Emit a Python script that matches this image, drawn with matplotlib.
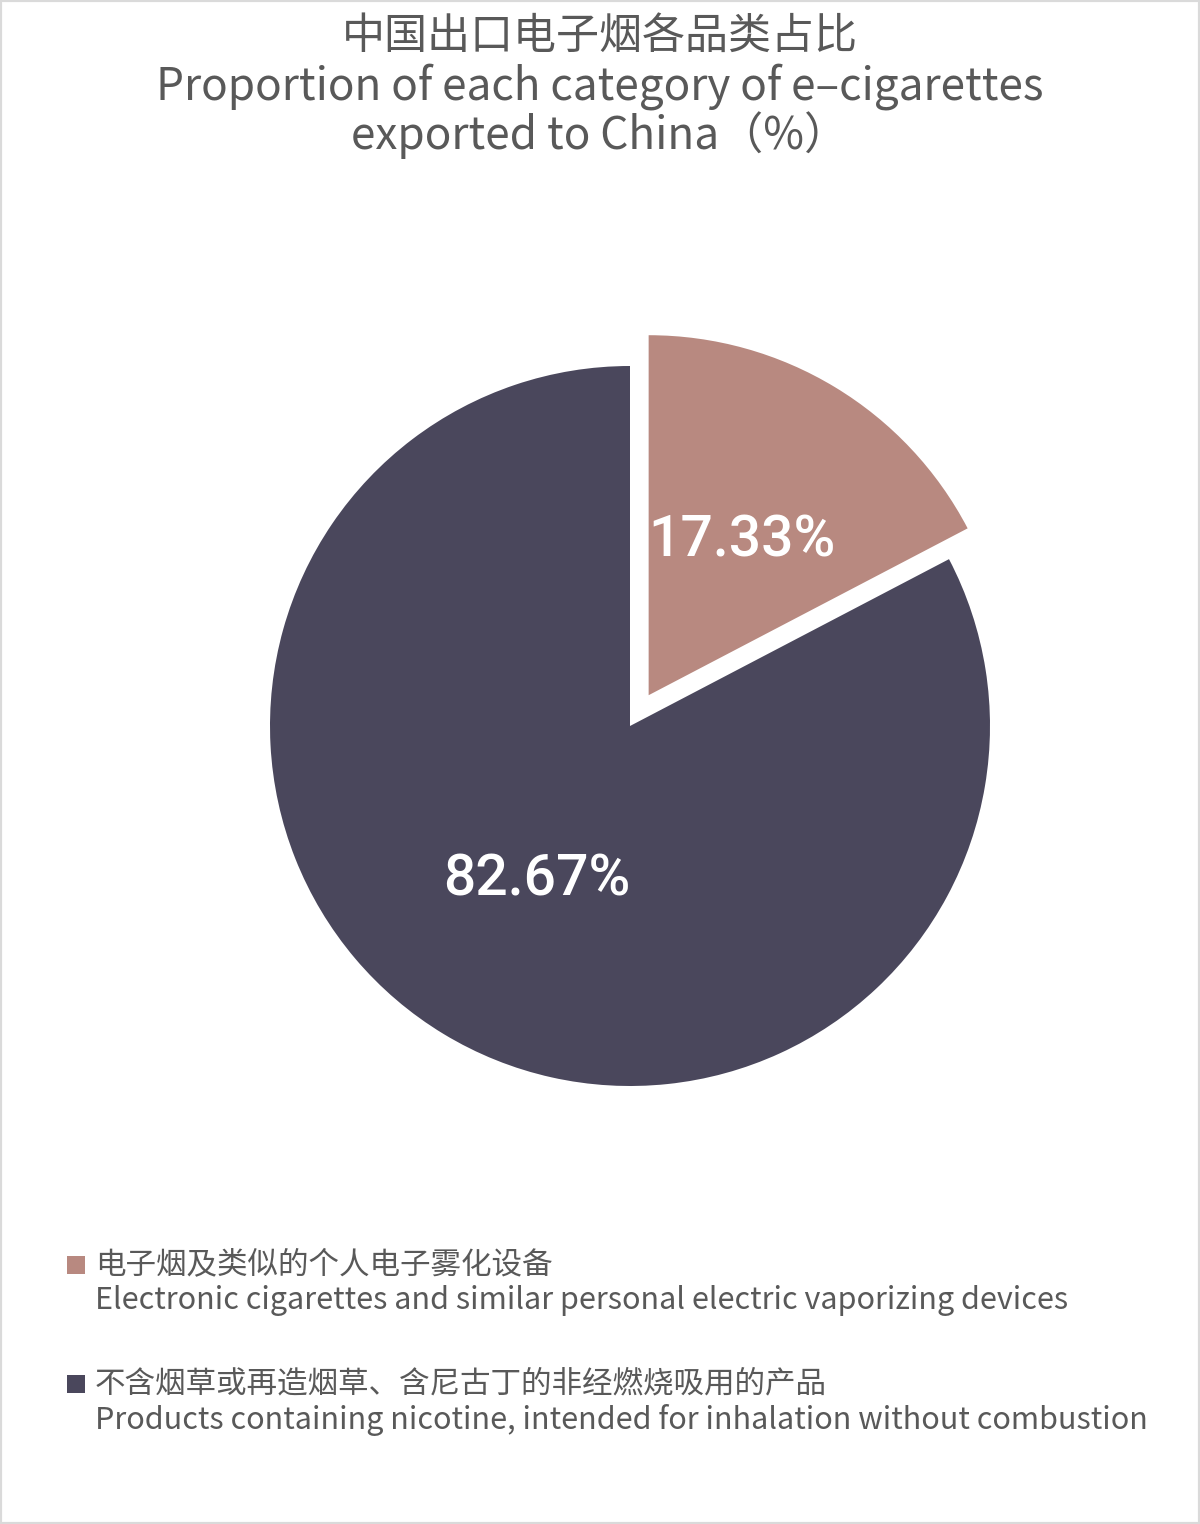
import matplotlib
matplotlib.use("Agg")
import matplotlib.pyplot as plt
from matplotlib.patches import Rectangle

plt.rcParams['font.family'] = ['Noto Sans CJK SC', 'DejaVu Sans']

# data
categories_cn = ["电子烟及类似的个人电子雾化设备",
                 "不含烟草或再造烟草、含尼古丁的非经燃烧吸用的产品"]
categories_en = ["Electronic cigarettes and similar personal electric vaporizing devices",
                 "Products containing nicotine, intended for inhalation without combustion"]
shares = [17.33, 82.67]
colors = ["#B88980", "#4A475C"]
explode = [0.1, 0.0]

TEXT = "#595959"

fig = plt.figure(figsize=(12, 15.24), dpi=100)
W, H = 1200.0, 1524.0

# frame
fig.patches.append(Rectangle((0, 0), 1, 1, transform=fig.transFigure,
                             fill=False, edgecolor="#DADADA", linewidth=3))

# pie: center (630, 726) px, radius 360 px
ax = fig.add_axes([180 / W, 1 - (726 + 450) / H, 900 / W, 900 / H])
wedges, texts, autotexts = ax.pie(shares, colors=colors, explode=explode,
                                  startangle=90, counterclock=False,
                                  autopct="%.2f%%", pctdistance=0.5,
                                  textprops=dict(color="white", fontsize=41,
                                                 family="Roboto",
                                                 fontweight="medium"))
ax.set_xlim(-1.25, 1.25)
ax.set_ylim(-1.25, 1.25)
ax.set_aspect("equal")

# title
fig.text(0.5, 1 - 37 / H, "中国出口电子烟各品类占比", ha="center", va="center",
         fontsize=31, color=TEXT)
fig.text(0.5, 1 - 87 / H, "Proportion of each category of e–cigarettes",
         ha="center", va="center", fontsize=31.8, color=TEXT)
fig.text(0.5, 1 - 135 / H, "exported to China（%）",
         ha="center", va="center", fontsize=31.8, color=TEXT)

# legend
rows = [1265, 1384]
for i in range(len(shares)):
    y = rows[i]
    fig.patches.append(Rectangle((67 / W, 1 - (y + 9) / H), 18 / W, 18 / H,
                                 transform=fig.transFigure,
                                 facecolor=colors[i], edgecolor="none"))
    fig.text(95 / W, 1 - y / H, categories_cn[i], ha="left", va="center",
             fontsize=22, color=TEXT)
    fig.text(95 / W, 1 - (y + 36) / H, categories_en[i], ha="left", va="center",
             fontsize=22, color=TEXT)

fig.savefig("out.png", dpi=100)
